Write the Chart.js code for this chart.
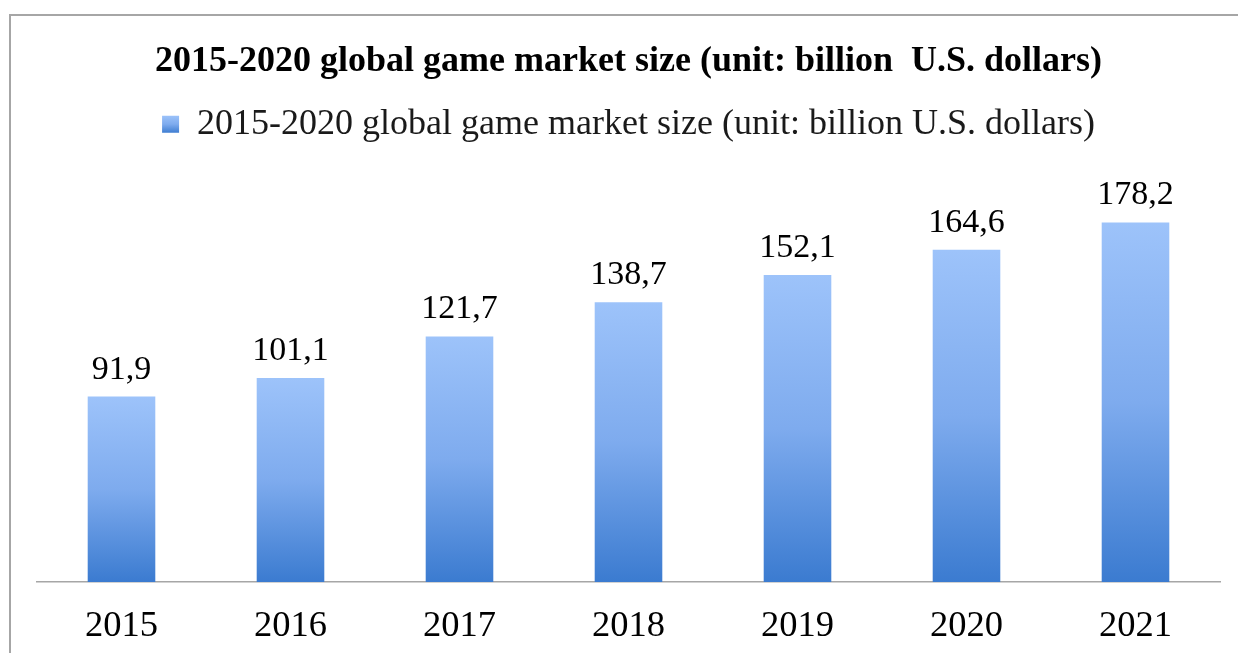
<!DOCTYPE html>
<html><head><meta charset="utf-8">
<script src="https://cdn.jsdelivr.net/npm/chart.js@4"></script>
<style>html,body{margin:0;padding:0;background:#fff;overflow:hidden}#wrap{width:1238px;height:653px;position:relative}</style>
</head><body><div id="wrap"><canvas id="c" width="1238" height="653"></canvas></div>
<script>
const categories = ['2015', '2016', '2017', '2018', '2019', '2020', '2021'];
const marketSize = [91.9, 101.1, 121.7, 138.7, 152.1, 164.6, 178.2];
const chartTitle = '2015-2020 global game market size (unit: billion  U.S. dollars)';
const seriesName = '2015-2020 global game market size (unit: billion U.S. dollars)';
const yMin = 0, yMax = 213;

const FONT = '"Liberation Serif", "Times New Roman", serif';
const fmt = v => v.toFixed(1).replace('.', ',');

function makeGrad(c, top, bottom) {
  const g = c.createLinearGradient(0, top, 0, bottom);
  g.addColorStop(0, '#9dc3fa');
  g.addColorStop(0.5, '#7eabee');
  g.addColorStop(1, '#3b7bd0');
  return g;
}
function barGradient(ctx) {
  const chart = ctx.chart;
  if (!chart.chartArea || ctx.dataIndex === undefined || !chart.scales.y) return '#7eabee';
  const y = chart.scales.y;
  return makeGrad(chart.ctx, y.getPixelForValue(ctx.raw), y.getPixelForValue(0));
}

const framePlugin = {
  id: 'frame',
  beforeDraw(chart) {
    const c = chart.ctx;
    c.save();
    c.strokeStyle = '#a6a6a6';
    c.lineWidth = 2;
    c.beginPath();
    c.moveTo(10, 653); c.lineTo(10, 15); c.lineTo(1238, 15);
    c.stroke();
    c.restore();
    const lg = chart.legend;
    if (lg && lg.legendHitBoxes && lg.legendHitBoxes[0] && lg.legendItems && lg.legendItems[0]) {
      const hb = lg.legendHitBoxes[0];
      const mid = hb.top + hb.height / 2;
      lg.legendItems[0].fillStyle = makeGrad(c, mid - 9, mid + 9);
    }
  }
};

const valueLabels = {
  id: 'valueLabels',
  afterDatasetsDraw(chart) {
    const c = chart.ctx;
    const meta = chart.getDatasetMeta(0);
    c.save();
    c.font = '34px ' + FONT;
    c.fillStyle = '#000';
    c.textAlign = 'center';
    c.textBaseline = 'alphabetic';
    meta.data.forEach((bar, i) => {
      c.fillText(fmt(marketSize[i]), bar.x, bar.y - 18);
    });
    c.restore();
  }
};

new Chart(document.getElementById('c'), {
  type: 'bar',
  data: {
    labels: categories,
    datasets: [{
      label: seriesName,
      data: marketSize,
      backgroundColor: barGradient,
      borderWidth: 0,
      barPercentage: 0.4,
      categoryPercentage: 1.0
    }]
  },
  options: {
    responsive: false,
    animation: false,
    devicePixelRatio: 1,
    layout: { padding: { left: 37, right: 18, top: 0, bottom: 0 } },
    plugins: {
      title: {
        display: true,
        text: chartTitle,
        color: '#000',
        font: { family: FONT, size: 36, weight: 'bold', lineHeight: 1.2 },
        padding: { top: 40, bottom: 13 }
      },
      legend: {
        display: true,
        position: 'top',
        labels: {
          color: '#1a1a1a',
          font: { family: FONT, size: 36 },
          boxWidth: 17,
          boxHeight: 17,
          padding: 10
        }
      },
      tooltip: { enabled: false }
    },
    scales: {
      x: {
        grid: { display: false, drawTicks: false },
        border: { display: true, color: '#a6a6a6', width: 1.5 },
        ticks: { color: '#000', font: { family: FONT, size: 36.5 }, padding: 23 },
        afterFit: s => { s.height = 71; }
      },
      y: { display: false, min: yMin, max: yMax }
    }
  },
  plugins: [framePlugin, valueLabels]
});
</script></body></html>
